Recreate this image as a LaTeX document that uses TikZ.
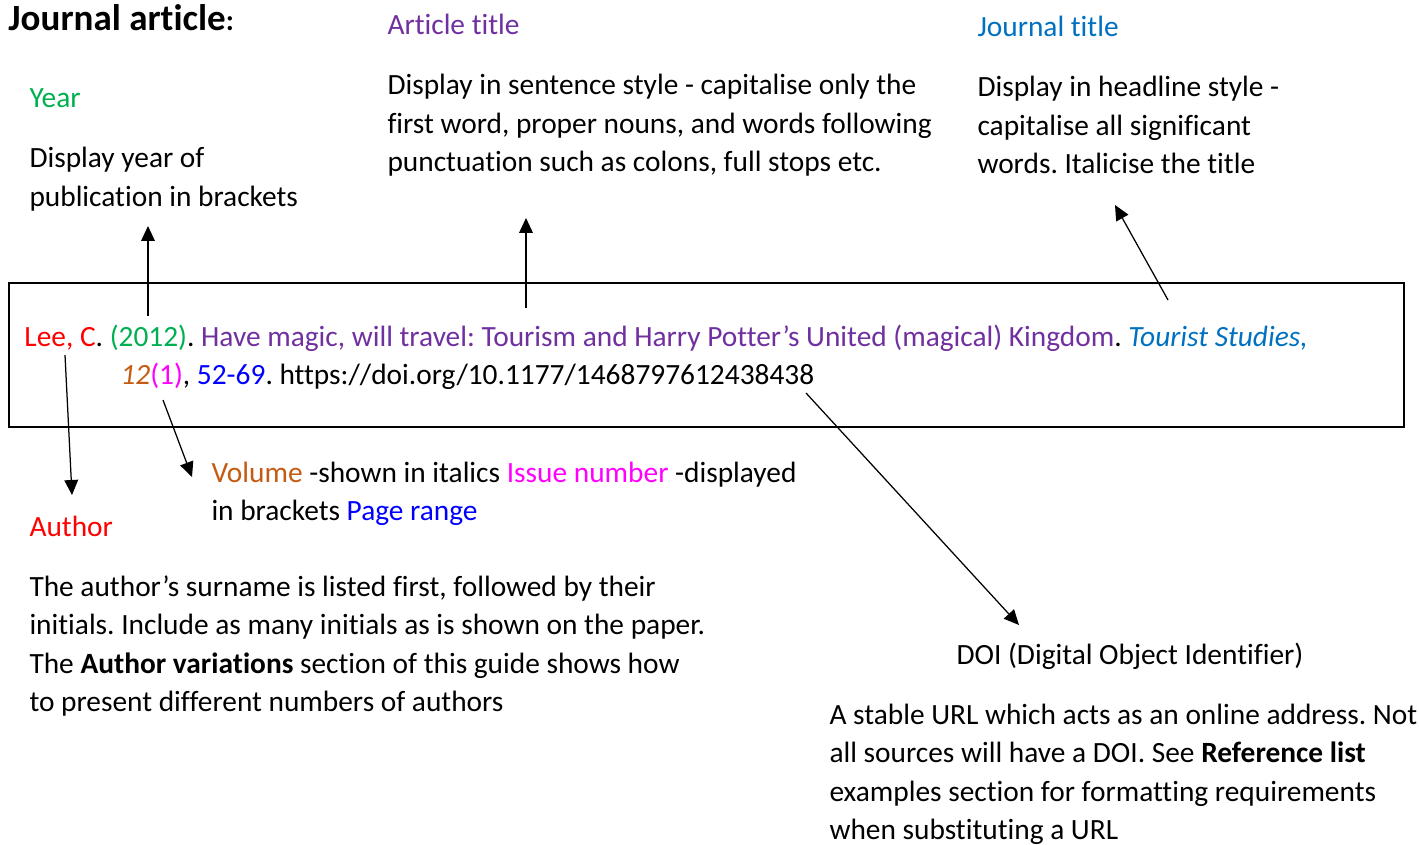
\documentclass[tikz,border=0pt]{standalone}
\usepackage{fontspec}
\setmainfont[Ligatures=NoCommon]{Carlito}
\usetikzlibrary{arrows.meta}

\definecolor{authorred}{HTML}{FF0000}
\definecolor{yeargreen}{HTML}{00B050}
\definecolor{titlepurple}{HTML}{7030A0}
\definecolor{journalblue}{HTML}{0070C0}
\definecolor{volorange}{HTML}{C55A11}
\definecolor{issuepink}{HTML}{FF00FF}
\definecolor{pageblue}{HTML}{0000FF}

% lines of a paragraph, first baseline on the node's base
\newcommand{\paralines}[1]{\begin{tabular}[t]{@{}l@{}}#1\end{tabular}}

\begin{document}
\frenchspacing
\begin{tikzpicture}[x=0.4pt,y=-0.4pt,
    every node/.style={inner sep=0pt,anchor=base west,
      font=\fontsize{11.75}{15.4}\selectfont},
    pointer/.style={-{Triangle[length=6pt,width=5.5pt]},line width=0.5pt}]
      \useasboundingbox (0,0) rectangle (1419,845);

      \node (Head) at (8,31) {\fontsize{14.8}{17}\selectfont\bfseries Journal article\fontsize{11.75}{14}\selectfont:};

      \node[text=yeargreen] (Year) at (29,108) {Year};
      \node (YearTxt) at (29,168) {\paralines{Display year of\\publication in brackets}};

      \node[text=titlepurple] (ArtTitle) at (387,35) {Article title};
      \node (ArtTxt) at (387,95) {\paralines{Display in sentence style - capitalise only the\\
        first word, proper nouns, and words following\\
        punctuation such as colons, full stops etc.}};

      \node[text=journalblue] (JrnTitle) at (977,37) {Journal title};
      \node (JrnTxt) at (977,97) {\paralines{Display in headline style -\\
        capitalise all significant\\
        words. Italicise the title}};

      % the reference itself
      \draw[line width=1pt] (9,283) rectangle (1404,427);
      \node (Ref1) at (24,347) {\textcolor{authorred}{Lee, C}. \textcolor{yeargreen}{(2012)}.
        \textcolor{titlepurple}{Have magic, will travel: Tourism and Harry Potter’s United (magical) Kingdom}.
        \textcolor{journalblue}{\itshape Tourist Studies,}};
      \node (Ref2) at (120,384) {\textcolor{volorange}{\itshape 12}\textcolor{issuepink}{(1)},
        \textcolor{pageblue}{52-69}. https://doi.org/10.1177/1468797612438438};

      \node (VolTxt) at (211,482) {\paralines{\textcolor{volorange}{Volume} -shown in italics
        \textcolor{issuepink}{Issue number} -displayed\\
        in brackets \textcolor{pageblue}{Page range}}};

      \node[text=authorred] (Author) at (29,536) {Author};
      \node (AuthTxt) at (29,596) {\paralines{The author’s surname is listed first, followed by their\\
        initials. Include as many initials as is shown on the paper.\\
        The \textbf{Author variations} section of this guide shows how\\
        to present different numbers of authors}};

      \node (Doi) at (956,664) {DOI (Digital Object Identifier)};
      \node (DoiTxt) at (829,724) {\paralines{A stable URL which acts as an online address. Not\\
        all sources will have a DOI. See \textbf{Reference list}\\
        examples section for formatting requirements\\
        when substituting a URL}};

      \coordinate (y0) at (148,316);  \coordinate (y1) at (148,226);
      \coordinate (t0) at (526,308);  \coordinate (t1) at (526,218);
      \coordinate (j0) at (1168,300); \coordinate (j1) at (1115,205);
      \coordinate (a0) at (65,355);   \coordinate (a1) at (72,495);
      \coordinate (v0) at (163,400);  \coordinate (v1) at (192,477);
      \coordinate (d0) at (806,393);  \coordinate (d1) at (1019,625);

      \draw [pointer] (y0) to (y1);
      \draw [pointer] (t0) to (t1);
      \draw [pointer] (j0) to (j1);
      \draw [pointer] (a0) to (a1);
      \draw [pointer] (v0) to (v1);
      \draw [pointer] (d0) to (d1);
  \end{tikzpicture}
\end{document}
